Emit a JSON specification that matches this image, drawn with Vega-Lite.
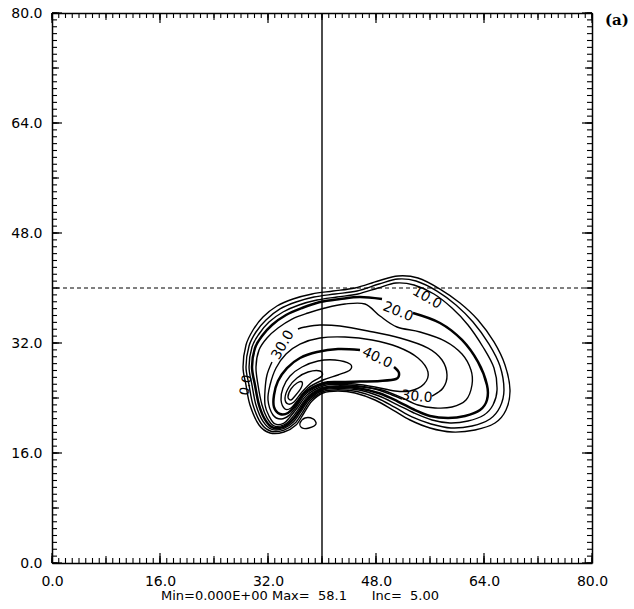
{
  "$schema": "https://vega.github.io/schema/vega-lite/v6.json",
  "width": 540,
  "height": 550,
  "autosize": "none",
  "padding": {"left": 52, "top": 13, "right": 42, "bottom": 46},
  "background": "white",
  "config": {
    "view": {"stroke": null},
    "axis": {"ticks": false, "tickSize": 0, "domainColor": "black", "domainWidth": 1.5, "labelFont": "DejaVu Sans", "labelFontSize": 14, "labelColor": "black", "grid": false, "labelOverlap": false, "labelFlush": false, "labelBound": false}
  },
  "title": {"text": "Min=0.000E+00 Max=\u00a0 58.1\u00a0\u00a0\u00a0\u00a0\u00a0 Inc=\u00a0 5.00", "orient": "bottom", "anchor": "middle", "font": "DejaVu Sans", "fontSize": 13, "fontWeight": "normal", "color": "black", "offset": 2, "dx": -22},
  "datasets": {
    "tv": [{"v":0},{"v":1},{"v":2},{"v":3},{"v":4},{"v":5},{"v":6},{"v":7},{"v":8},{"v":9},{"v":10},{"v":11},{"v":12},{"v":13},{"v":14},{"v":15},{"v":16},{"v":17},{"v":18},{"v":19},{"v":20},{"v":21},{"v":22},{"v":23},{"v":24},{"v":25},{"v":26},{"v":27},{"v":28},{"v":29},{"v":30},{"v":31},{"v":32},{"v":33},{"v":34},{"v":35},{"v":36},{"v":37},{"v":38},{"v":39},{"v":40},{"v":41},{"v":42},{"v":43},{"v":44},{"v":45},{"v":46},{"v":47},{"v":48},{"v":49},{"v":50},{"v":51},{"v":52},{"v":53},{"v":54},{"v":55},{"v":56},{"v":57},{"v":58},{"v":59},{"v":60},{"v":61},{"v":62},{"v":63},{"v":64},{"v":65},{"v":66},{"v":67},{"v":68},{"v":69},{"v":70},{"v":71},{"v":72},{"v":73},{"v":74},{"v":75},{"v":76},{"v":77},{"v":78},{"v":79},{"v":80}],
    "c": [
      {"s":"L5","i":1,"x":29.33,"y":22.98},{"s":"L5","i":2,"x":28.74,"y":25.89},{"s":"L5","i":3,"x":28.30,"y":28.51},{"s":"L5","i":4,"x":28.74,"y":31.71},{"s":"L5","i":5,"x":29.78,"y":33.89},{"s":"L5","i":6,"x":31.26,"y":35.78},{"s":"L5","i":7,"x":33.33,"y":37.38},{"s":"L5","i":8,"x":35.70,"y":38.40},{"s":"L5","i":9,"x":38.52,"y":39.13},{"s":"L5","i":10,"x":41.63,"y":39.56},{"s":"L5","i":11,"x":44.89,"y":40.00},{"s":"L5","i":12,"x":48.30,"y":41.02},{"s":"L5","i":13,"x":51.26,"y":41.75},{"s":"L5","i":14,"x":54.22,"y":41.45},{"s":"L5","i":15,"x":57.48,"y":39.85},{"s":"L5","i":16,"x":60.44,"y":37.82},{"s":"L5","i":17,"x":63.11,"y":35.35},{"s":"L5","i":18,"x":65.48,"y":32.15},{"s":"L5","i":19,"x":67.11,"y":28.80},{"s":"L5","i":20,"x":67.85,"y":25.16},{"s":"L5","i":21,"x":67.26,"y":22.25},{"s":"L5","i":22,"x":65.63,"y":20.36},{"s":"L5","i":23,"x":62.67,"y":19.35},{"s":"L5","i":24,"x":59.26,"y":19.05},{"s":"L5","i":25,"x":56.00,"y":19.64},{"s":"L5","i":26,"x":53.04,"y":20.80},{"s":"L5","i":27,"x":50.52,"y":22.25},{"s":"L5","i":28,"x":47.85,"y":23.71},{"s":"L5","i":29,"x":44.89,"y":24.73},{"s":"L5","i":30,"x":42.37,"y":25.02},{"s":"L5","i":31,"x":40.15,"y":24.73},{"s":"L5","i":32,"x":38.52,"y":23.56},{"s":"L5","i":33,"x":37.33,"y":21.82},{"s":"L5","i":34,"x":36.15,"y":20.07},{"s":"L5","i":35,"x":34.37,"y":19.05},{"s":"L5","i":36,"x":32.30,"y":18.91},{"s":"L5","i":37,"x":30.67,"y":20.07},

      {"s":"L10","i":1,"x":29.78,"y":22.98},{"s":"L10","i":2,"x":29.19,"y":25.89},{"s":"L10","i":3,"x":28.74,"y":28.51},{"s":"L10","i":4,"x":29.19,"y":31.56},{"s":"L10","i":5,"x":30.22,"y":33.60},{"s":"L10","i":6,"x":31.70,"y":35.35},{"s":"L10","i":7,"x":33.78,"y":36.95},{"s":"L10","i":8,"x":36.15,"y":37.96},{"s":"L10","i":9,"x":38.81,"y":38.69},{"s":"L10","i":10,"x":41.93,"y":39.13},{"s":"L10","i":11,"x":45.19,"y":39.56},{"s":"L10","i":12,"x":48.44,"y":40.58},{"s":"L10","i":13,"x":51.26,"y":41.31},{"s":"L10","i":14,"x":53.93,"y":41.02},{"s":"L10","i":15,"x":57.04,"y":39.56},{"s":"L10","i":16,"x":59.85,"y":37.53},{"s":"L10","i":17,"x":62.37,"y":35.05},{"s":"L10","i":18,"x":64.74,"y":31.85},{"s":"L10","i":19,"x":66.37,"y":28.65},{"s":"L10","i":20,"x":66.96,"y":25.16},{"s":"L10","i":21,"x":66.37,"y":22.69},{"s":"L10","i":22,"x":64.89,"y":20.95},{"s":"L10","i":23,"x":62.22,"y":19.93},{"s":"L10","i":24,"x":59.11,"y":19.64},{"s":"L10","i":25,"x":56.15,"y":20.22},{"s":"L10","i":26,"x":53.33,"y":21.24},{"s":"L10","i":27,"x":50.81,"y":22.62},{"s":"L10","i":28,"x":48.15,"y":24.00},{"s":"L10","i":29,"x":45.19,"y":24.95},{"s":"L10","i":30,"x":42.37,"y":25.21},{"s":"L10","i":31,"x":40.15,"y":24.93},{"s":"L10","i":32,"x":38.37,"y":23.74},{"s":"L10","i":33,"x":37.16,"y":21.99},{"s":"L10","i":34,"x":35.97,"y":20.31},{"s":"L10","i":35,"x":34.37,"y":19.32},{"s":"L10","i":36,"x":32.44,"y":19.17},{"s":"L10","i":37,"x":30.96,"y":20.33},

      {"s":"L15","i":1,"x":30.22,"y":22.98},{"s":"L15","i":2,"x":29.63,"y":25.89},{"s":"L15","i":3,"x":29.19,"y":28.51},{"s":"L15","i":4,"x":29.63,"y":31.42},{"s":"L15","i":5,"x":30.67,"y":33.31},{"s":"L15","i":6,"x":32.15,"y":35.05},{"s":"L15","i":7,"x":34.22,"y":36.51},{"s":"L15","i":8,"x":36.59,"y":37.53},{"s":"L15","i":9,"x":39.26,"y":38.25},{"s":"L15","i":10,"x":42.22,"y":38.69},{"s":"L15","i":11,"x":45.33,"y":39.13},{"s":"L15","i":12,"x":48.30,"y":40.00},{"s":"L15","i":13,"x":50.96,"y":40.73},{"s":"L15","i":14,"x":53.63,"y":40.44},{"s":"L15","i":15,"x":56.59,"y":39.13},{"s":"L15","i":16,"x":59.26,"y":37.09},{"s":"L15","i":17,"x":61.63,"y":34.62},{"s":"L15","i":18,"x":63.85,"y":31.42},{"s":"L15","i":19,"x":65.48,"y":28.36},{"s":"L15","i":20,"x":65.93,"y":25.16},{"s":"L15","i":21,"x":65.33,"y":22.98},{"s":"L15","i":22,"x":64.00,"y":21.53},{"s":"L15","i":23,"x":61.63,"y":20.65},{"s":"L15","i":24,"x":58.96,"y":20.36},{"s":"L15","i":25,"x":56.30,"y":20.80},{"s":"L15","i":26,"x":53.63,"y":21.82},{"s":"L15","i":27,"x":51.11,"y":23.05},{"s":"L15","i":28,"x":48.44,"y":24.29},{"s":"L15","i":29,"x":45.48,"y":25.16},{"s":"L15","i":30,"x":42.37,"y":25.40},{"s":"L15","i":31,"x":40.15,"y":25.13},{"s":"L15","i":32,"x":38.22,"y":23.91},{"s":"L15","i":33,"x":36.98,"y":22.17},{"s":"L15","i":34,"x":35.79,"y":20.54},{"s":"L15","i":35,"x":34.37,"y":19.58},{"s":"L15","i":36,"x":32.59,"y":19.43},{"s":"L15","i":37,"x":31.26,"y":20.60},

      {"s":"L20","i":1,"x":53.48,"y":36.36},{"s":"L20","i":2,"x":57.48,"y":34.91},{"s":"L20","i":3,"x":60.74,"y":32.44},{"s":"L20","i":4,"x":63.11,"y":29.24},{"s":"L20","i":5,"x":64.44,"y":25.89},{"s":"L20","i":6,"x":64.44,"y":23.71},{"s":"L20","i":7,"x":63.41,"y":22.25},{"s":"L20","i":8,"x":61.19,"y":21.38},{"s":"L20","i":9,"x":58.67,"y":21.09},{"s":"L20","i":10,"x":56.00,"y":21.38},{"s":"L20","i":11,"x":53.78,"y":22.25},{"s":"L20","i":12,"x":51.26,"y":23.49},{"s":"L20","i":13,"x":48.59,"y":24.65},{"s":"L20","i":14,"x":45.63,"y":25.38},{"s":"L20","i":15,"x":42.37,"y":25.59},{"s":"L20","i":16,"x":40.15,"y":25.34},{"s":"L20","i":17,"x":38.07,"y":24.09},{"s":"L20","i":18,"x":36.80,"y":22.34},{"s":"L20","i":19,"x":35.61,"y":20.77},{"s":"L20","i":20,"x":34.37,"y":19.84},{"s":"L20","i":21,"x":32.74,"y":19.69},{"s":"L20","i":22,"x":31.56,"y":20.86},{"s":"L20","i":23,"x":30.67,"y":22.98},{"s":"L20","i":24,"x":30.07,"y":25.89},{"s":"L20","i":25,"x":29.63,"y":28.51},{"s":"L20","i":26,"x":30.07,"y":31.27},{"s":"L20","i":27,"x":31.11,"y":33.02},{"s":"L20","i":28,"x":32.59,"y":34.62},{"s":"L20","i":29,"x":34.67,"y":36.07},{"s":"L20","i":30,"x":37.04,"y":37.09},{"s":"L20","i":31,"x":39.70,"y":37.96},{"s":"L20","i":32,"x":42.67,"y":38.40},{"s":"L20","i":33,"x":45.63,"y":38.69},{"s":"L20","i":34,"x":48.89,"y":38.40},

      {"s":"L25","i":1,"x":31.11,"y":22.98},{"s":"L25","i":2,"x":30.52,"y":25.89},{"s":"L25","i":3,"x":30.22,"y":28.51},{"s":"L25","i":4,"x":30.67,"y":30.98},{"s":"L25","i":5,"x":31.85,"y":32.73},{"s":"L25","i":6,"x":33.48,"y":34.18},{"s":"L25","i":7,"x":35.56,"y":35.49},{"s":"L25","i":8,"x":37.93,"y":36.36},{"s":"L25","i":9,"x":40.44,"y":37.09},{"s":"L25","i":10,"x":43.41,"y":37.67},{"s":"L25","i":11,"x":46.37,"y":37.67},{"s":"L25","i":12,"x":48.59,"y":35.93},{"s":"L25","i":13,"x":51.11,"y":34.33},{"s":"L25","i":14,"x":54.52,"y":33.60},{"s":"L25","i":15,"x":58.22,"y":32.29},{"s":"L25","i":16,"x":60.74,"y":30.40},{"s":"L25","i":17,"x":62.07,"y":28.07},{"s":"L25","i":18,"x":62.22,"y":25.89},{"s":"L25","i":19,"x":61.33,"y":23.71},{"s":"L25","i":20,"x":59.26,"y":22.69},{"s":"L25","i":21,"x":56.74,"y":22.55},{"s":"L25","i":22,"x":54.22,"y":22.98},{"s":"L25","i":23,"x":51.56,"y":24.15},{"s":"L25","i":24,"x":48.89,"y":25.16},{"s":"L25","i":25,"x":45.93,"y":25.60},{"s":"L25","i":26,"x":42.37,"y":25.77},{"s":"L25","i":27,"x":40.15,"y":25.54},{"s":"L25","i":28,"x":37.93,"y":24.26},{"s":"L25","i":29,"x":36.62,"y":22.52},{"s":"L25","i":30,"x":35.44,"y":21.00},{"s":"L25","i":31,"x":34.37,"y":20.10},{"s":"L25","i":32,"x":32.89,"y":19.96},{"s":"L25","i":33,"x":31.85,"y":21.12},

      {"s":"L30a","i":1,"x":56.30,"y":24.29},{"s":"L30a","i":2,"x":57.93,"y":25.45},{"s":"L30a","i":3,"x":58.52,"y":27.35},{"s":"L30a","i":4,"x":57.78,"y":29.53},{"s":"L30a","i":5,"x":55.70,"y":31.27},{"s":"L30a","i":6,"x":51.56,"y":32.73},{"s":"L30a","i":7,"x":46.81,"y":33.75},{"s":"L30a","i":8,"x":42.67,"y":34.47},{"s":"L30a","i":9,"x":39.70,"y":34.62},{"s":"L30a","i":10,"x":37.48,"y":34.33},{"s":"L30a","i":11,"x":36.44,"y":34.04},

      {"s":"L30b","i":1,"x":32.59,"y":29.24},{"s":"L30b","i":2,"x":31.85,"y":27.35},{"s":"L30b","i":3,"x":31.56,"y":25.16},{"s":"L30b","i":4,"x":31.56,"y":22.98},{"s":"L30b","i":5,"x":32.15,"y":21.38},{"s":"L30b","i":6,"x":33.04,"y":20.22},{"s":"L30b","i":7,"x":34.37,"y":20.36},{"s":"L30b","i":8,"x":35.26,"y":21.24},{"s":"L30b","i":9,"x":36.44,"y":22.69},{"s":"L30b","i":10,"x":37.78,"y":24.44},{"s":"L30b","i":11,"x":40.15,"y":25.75},{"s":"L30b","i":12,"x":42.37,"y":25.96},{"s":"L30b","i":13,"x":44.89,"y":25.82},{"s":"L30b","i":14,"x":47.85,"y":25.31},{"s":"L30b","i":15,"x":50.37,"y":24.44},{"s":"L30b","i":16,"x":51.85,"y":23.85},

      {"s":"L35","i":1,"x":32.00,"y":23.71},{"s":"L35","i":2,"x":32.30,"y":25.89},{"s":"L35","i":3,"x":33.19,"y":28.36},{"s":"L35","i":4,"x":34.67,"y":30.40},{"s":"L35","i":5,"x":36.74,"y":31.85},{"s":"L35","i":6,"x":39.70,"y":32.73},{"s":"L35","i":7,"x":43.41,"y":32.87},{"s":"L35","i":8,"x":47.41,"y":32.44},{"s":"L35","i":9,"x":51.26,"y":31.42},{"s":"L35","i":10,"x":54.22,"y":29.82},{"s":"L35","i":11,"x":55.70,"y":27.78},{"s":"L35","i":12,"x":55.11,"y":26.04},{"s":"L35","i":13,"x":53.04,"y":25.02},{"s":"L35","i":14,"x":50.81,"y":25.02},{"s":"L35","i":15,"x":47.85,"y":25.60},{"s":"L35","i":16,"x":44.89,"y":26.04},{"s":"L35","i":17,"x":42.37,"y":26.15},{"s":"L35","i":18,"x":40.15,"y":25.95},{"s":"L35","i":19,"x":37.63,"y":24.61},{"s":"L35","i":20,"x":36.30,"y":22.87},{"s":"L35","i":21,"x":35.11,"y":21.47},{"s":"L35","i":22,"x":33.93,"y":20.95},{"s":"L35","i":23,"x":32.74,"y":21.53},

      {"s":"L40","i":1,"x":50.67,"y":28.51},{"s":"L40","i":2,"x":51.41,"y":27.64},{"s":"L40","i":3,"x":50.96,"y":26.76},{"s":"L40","i":4,"x":48.59,"y":26.47},{"s":"L40","i":5,"x":45.63,"y":26.40},{"s":"L40","i":6,"x":42.67,"y":26.33},{"s":"L40","i":7,"x":40.15,"y":26.15},{"s":"L40","i":8,"x":37.48,"y":24.79},{"s":"L40","i":9,"x":36.15,"y":23.04},{"s":"L40","i":10,"x":34.96,"y":21.82},{"s":"L40","i":11,"x":33.78,"y":21.67},{"s":"L40","i":12,"x":32.89,"y":22.69},{"s":"L40","i":13,"x":32.89,"y":24.44},{"s":"L40","i":14,"x":33.48,"y":26.47},{"s":"L40","i":15,"x":34.81,"y":28.36},{"s":"L40","i":16,"x":36.74,"y":29.82},{"s":"L40","i":17,"x":39.26,"y":30.69},{"s":"L40","i":18,"x":42.37,"y":31.13},{"s":"L40","i":19,"x":45.63,"y":30.98},

      {"s":"L45","i":1,"x":33.93,"y":23.71},{"s":"L45","i":2,"x":34.22,"y":25.45},{"s":"L45","i":3,"x":35.26,"y":27.20},{"s":"L45","i":4,"x":37.04,"y":28.51},{"s":"L45","i":5,"x":39.41,"y":29.38},{"s":"L45","i":6,"x":41.93,"y":29.53},{"s":"L45","i":7,"x":44.15,"y":28.94},{"s":"L45","i":8,"x":44.15,"y":28.07},{"s":"L45","i":9,"x":42.37,"y":27.35},{"s":"L45","i":10,"x":40.15,"y":26.62},{"s":"L45","i":11,"x":37.93,"y":25.45},{"s":"L45","i":12,"x":36.44,"y":23.71},{"s":"L45","i":13,"x":35.41,"y":22.55},{"s":"L45","i":14,"x":34.52,"y":22.40},

      {"s":"L50","i":1,"x":34.52,"y":24.00},{"s":"L50","i":2,"x":35.11,"y":25.60},{"s":"L50","i":3,"x":36.30,"y":26.91},{"s":"L50","i":4,"x":37.93,"y":27.78},{"s":"L50","i":5,"x":39.70,"y":27.93},{"s":"L50","i":6,"x":40.00,"y":27.20},{"s":"L50","i":7,"x":38.52,"y":26.33},{"s":"L50","i":8,"x":37.04,"y":24.87},{"s":"L50","i":9,"x":35.85,"y":23.42},{"s":"L50","i":10,"x":34.96,"y":23.13},

      {"s":"L55","i":1,"x":34.96,"y":24.15},{"s":"L55","i":2,"x":35.41,"y":25.31},{"s":"L55","i":3,"x":36.30,"y":26.18},{"s":"L55","i":4,"x":37.04,"y":26.33},{"s":"L55","i":5,"x":36.89,"y":25.45},{"s":"L55","i":6,"x":36.00,"y":24.29},{"s":"L55","i":7,"x":35.41,"y":23.71},

      {"s":"B1","i":1,"x":36.74,"y":20.36},{"s":"B1","i":2,"x":37.48,"y":21.09},{"s":"B1","i":3,"x":38.67,"y":20.95},{"s":"B1","i":4,"x":39.11,"y":20.22},{"s":"B1","i":5,"x":38.07,"y":19.64},{"s":"B1","i":6,"x":37.04,"y":19.64}
    ],
    "lab": [
      {"id":"l10","t":"10.0","x":55.56,"y":38.55},
      {"id":"l20","t":"20.0","x":51.26,"y":36.51},
      {"id":"l30a","t":"30.0","x":34.22,"y":31.71},
      {"id":"l40","t":"40.0","x":48.15,"y":29.82},
      {"id":"l30b","t":"30.0","x":54.07,"y":24.15},
      {"id":"l0","t":"0.0","x":28.74,"y":25.89},
      {"id":"pa","t":"(a)","x":83.7,"y":78.98}
    ],
    "ln": [{"v": 40}]
  },
  "layer": [
    {
      "data": {"name": "c"},
      "transform": [{"filter": {"field": "s", "oneOf": ["L5","L10","L15","L25","L35","L45","L50","L55","B1"]}}],
      "mark": {"type": "line", "interpolate": "cardinal-closed", "color": "black", "strokeWidth": 1.4},
      "encoding": {
        "x": {"field": "x", "type": "quantitative", "scale": {"domain": [0, 80], "nice": false, "zero": false},
          "axis": {"orient": "bottom", "title": null, "values": [0, 16, 32, 48, 64, 80], "format": ".1f", "labelPadding": 11}},
        "y": {"field": "y", "type": "quantitative", "scale": {"domain": [0, 80], "nice": false, "zero": false},
          "axis": {"orient": "left", "title": null, "values": [0, 16, 32, 48, 64, 80], "format": ".1f", "labelPadding": 10}},
        "detail": {"field": "s"},
        "order": {"field": "i", "type": "quantitative"}
      }
    },
    {
      "data": {"name": "c"},
      "transform": [{"filter": {"field": "s", "oneOf": ["L30a","L30b"]}}],
      "mark": {"type": "line", "interpolate": "cardinal", "color": "black", "strokeWidth": 1.4},
      "encoding": {
        "x": {"field": "x", "type": "quantitative", "scale": {"domain": [0, 80]}, "axis": null},
        "y": {"field": "y", "type": "quantitative", "scale": {"domain": [0, 80]}, "axis": null},
        "detail": {"field": "s"},
        "order": {"field": "i", "type": "quantitative"}
      }
    },
    {
      "data": {"name": "c"},
      "transform": [{"filter": {"field": "s", "oneOf": ["L20","L40"]}}],
      "mark": {"type": "line", "interpolate": "cardinal", "color": "black", "strokeWidth": 2.5},
      "encoding": {
        "x": {"field": "x", "type": "quantitative", "scale": {"domain": [0, 80]}, "axis": null},
        "y": {"field": "y", "type": "quantitative", "scale": {"domain": [0, 80]}, "axis": null},
        "detail": {"field": "s"},
        "order": {"field": "i", "type": "quantitative"}
      }
    },
    {
      "data": {"name": "ln"},
      "mark": {"type": "rule", "color": "black", "strokeWidth": 1.4},
      "encoding": {"x": {"field": "v", "type": "quantitative", "scale": {"domain": [0, 80]}, "axis": null}}
    },
    {
      "data": {"name": "ln"},
      "mark": {"type": "rule", "color": "black", "strokeWidth": 1, "strokeDash": [4, 3]},
      "encoding": {"y": {"field": "v", "type": "quantitative", "scale": {"domain": [0, 80]}, "axis": null}}
    },

    {"data": {"name": "tv"}, "mark": {"type": "tick", "orient": "vertical", "size": 5, "thickness": 1.1, "color": "black", "opacity": 1, "yOffset": -2.5},
      "encoding": {"x": {"field": "v", "type": "quantitative", "scale": {"domain": [0, 80]}, "axis": null}, "y": {"datum": 0, "type": "quantitative", "scale": {"domain": [0, 80]}, "axis": null}}},
    {"data": {"name": "tv"}, "transform": [{"filter": "datum.v % 8 === 0"}], "mark": {"type": "tick", "orient": "vertical", "size": 7, "thickness": 1.1, "color": "black", "opacity": 1, "yOffset": -3.5},
      "encoding": {"x": {"field": "v", "type": "quantitative", "scale": {"domain": [0, 80]}, "axis": null}, "y": {"datum": 0, "type": "quantitative", "scale": {"domain": [0, 80]}, "axis": null}}},
    {"data": {"name": "tv"}, "transform": [{"filter": "datum.v % 16 === 0"}], "mark": {"type": "tick", "orient": "vertical", "size": 10, "thickness": 1.2, "color": "black", "opacity": 1, "yOffset": -5},
      "encoding": {"x": {"field": "v", "type": "quantitative", "scale": {"domain": [0, 80]}, "axis": null}, "y": {"datum": 0, "type": "quantitative", "scale": {"domain": [0, 80]}, "axis": null}}},

    {"data": {"name": "tv"}, "mark": {"type": "tick", "orient": "vertical", "size": 5, "thickness": 1.1, "color": "black", "opacity": 1, "yOffset": 2.5},
      "encoding": {"x": {"field": "v", "type": "quantitative", "scale": {"domain": [0, 80]}, "axis": null}, "y": {"datum": 80, "type": "quantitative", "scale": {"domain": [0, 80]}, "axis": null}}},
    {"data": {"name": "tv"}, "transform": [{"filter": "datum.v % 8 === 0"}], "mark": {"type": "tick", "orient": "vertical", "size": 7, "thickness": 1.1, "color": "black", "opacity": 1, "yOffset": 3.5},
      "encoding": {"x": {"field": "v", "type": "quantitative", "scale": {"domain": [0, 80]}, "axis": null}, "y": {"datum": 80, "type": "quantitative", "scale": {"domain": [0, 80]}, "axis": null}}},
    {"data": {"name": "tv"}, "transform": [{"filter": "datum.v % 16 === 0"}], "mark": {"type": "tick", "orient": "vertical", "size": 10, "thickness": 1.2, "color": "black", "opacity": 1, "yOffset": 5},
      "encoding": {"x": {"field": "v", "type": "quantitative", "scale": {"domain": [0, 80]}, "axis": null}, "y": {"datum": 80, "type": "quantitative", "scale": {"domain": [0, 80]}, "axis": null}}},

    {"data": {"name": "tv"}, "mark": {"type": "tick", "orient": "horizontal", "size": 5, "thickness": 1.1, "color": "black", "opacity": 1, "xOffset": 2.5},
      "encoding": {"y": {"field": "v", "type": "quantitative", "scale": {"domain": [0, 80]}, "axis": null}, "x": {"datum": 0, "type": "quantitative", "scale": {"domain": [0, 80]}, "axis": null}}},
    {"data": {"name": "tv"}, "transform": [{"filter": "datum.v % 8 === 0"}], "mark": {"type": "tick", "orient": "horizontal", "size": 7, "thickness": 1.1, "color": "black", "opacity": 1, "xOffset": 3.5},
      "encoding": {"y": {"field": "v", "type": "quantitative", "scale": {"domain": [0, 80]}, "axis": null}, "x": {"datum": 0, "type": "quantitative", "scale": {"domain": [0, 80]}, "axis": null}}},
    {"data": {"name": "tv"}, "transform": [{"filter": "datum.v % 16 === 0"}], "mark": {"type": "tick", "orient": "horizontal", "size": 10, "thickness": 1.2, "color": "black", "opacity": 1, "xOffset": 5},
      "encoding": {"y": {"field": "v", "type": "quantitative", "scale": {"domain": [0, 80]}, "axis": null}, "x": {"datum": 0, "type": "quantitative", "scale": {"domain": [0, 80]}, "axis": null}}},

    {"data": {"name": "tv"}, "mark": {"type": "tick", "orient": "horizontal", "size": 5, "thickness": 1.1, "color": "black", "opacity": 1, "xOffset": -2.5},
      "encoding": {"y": {"field": "v", "type": "quantitative", "scale": {"domain": [0, 80]}, "axis": null}, "x": {"datum": 80, "type": "quantitative", "scale": {"domain": [0, 80]}, "axis": null}}},
    {"data": {"name": "tv"}, "transform": [{"filter": "datum.v % 8 === 0"}], "mark": {"type": "tick", "orient": "horizontal", "size": 7, "thickness": 1.1, "color": "black", "opacity": 1, "xOffset": -3.5},
      "encoding": {"y": {"field": "v", "type": "quantitative", "scale": {"domain": [0, 80]}, "axis": null}, "x": {"datum": 80, "type": "quantitative", "scale": {"domain": [0, 80]}, "axis": null}}},
    {"data": {"name": "tv"}, "transform": [{"filter": "datum.v % 16 === 0"}], "mark": {"type": "tick", "orient": "horizontal", "size": 10, "thickness": 1.2, "color": "black", "opacity": 1, "xOffset": -5},
      "encoding": {"y": {"field": "v", "type": "quantitative", "scale": {"domain": [0, 80]}, "axis": null}, "x": {"datum": 80, "type": "quantitative", "scale": {"domain": [0, 80]}, "axis": null}}},

    {
      "data": {"name": "lab"},
      "transform": [{"filter": {"field": "id", "equal": "l10"}}],
      "mark": {"type": "text", "font": "DejaVu Sans", "fontSize": 14, "color": "black", "angle": 30, "align": "center", "baseline": "middle"},
      "encoding": {"x": {"field": "x", "type": "quantitative", "scale": {"domain": [0, 80]}, "axis": null}, "y": {"field": "y", "type": "quantitative", "scale": {"domain": [0, 80]}, "axis": null}, "text": {"field": "t"}}
    },
    {
      "data": {"name": "lab"},
      "transform": [{"filter": {"field": "id", "equal": "l20"}}],
      "mark": {"type": "text", "font": "DejaVu Sans", "fontSize": 14, "color": "black", "angle": 22, "align": "center", "baseline": "middle"},
      "encoding": {"x": {"field": "x", "type": "quantitative", "scale": {"domain": [0, 80]}, "axis": null}, "y": {"field": "y", "type": "quantitative", "scale": {"domain": [0, 80]}, "axis": null}, "text": {"field": "t"}}
    },
    {
      "data": {"name": "lab"},
      "transform": [{"filter": {"field": "id", "equal": "l30a"}}],
      "mark": {"type": "text", "font": "DejaVu Sans", "fontSize": 14, "color": "black", "angle": -60, "align": "center", "baseline": "middle"},
      "encoding": {"x": {"field": "x", "type": "quantitative", "scale": {"domain": [0, 80]}, "axis": null}, "y": {"field": "y", "type": "quantitative", "scale": {"domain": [0, 80]}, "axis": null}, "text": {"field": "t"}}
    },
    {
      "data": {"name": "lab"},
      "transform": [{"filter": {"field": "id", "equal": "l40"}}],
      "mark": {"type": "text", "font": "DejaVu Sans", "fontSize": 14, "color": "black", "angle": 25, "align": "center", "baseline": "middle"},
      "encoding": {"x": {"field": "x", "type": "quantitative", "scale": {"domain": [0, 80]}, "axis": null}, "y": {"field": "y", "type": "quantitative", "scale": {"domain": [0, 80]}, "axis": null}, "text": {"field": "t"}}
    },
    {
      "data": {"name": "lab"},
      "transform": [{"filter": {"field": "id", "equal": "l30b"}}],
      "mark": {"type": "text", "font": "DejaVu Sans", "fontSize": 14, "color": "black", "angle": 5, "align": "center", "baseline": "middle"},
      "encoding": {"x": {"field": "x", "type": "quantitative", "scale": {"domain": [0, 80]}, "axis": null}, "y": {"field": "y", "type": "quantitative", "scale": {"domain": [0, 80]}, "axis": null}, "text": {"field": "t"}}
    },
    {
      "data": {"name": "lab"},
      "transform": [{"filter": {"field": "id", "equal": "l0"}}],
      "mark": {"type": "text", "font": "DejaVu Sans", "fontSize": 13, "color": "black", "angle": -80, "align": "center", "baseline": "middle"},
      "encoding": {"x": {"field": "x", "type": "quantitative", "scale": {"domain": [0, 80]}, "axis": null}, "y": {"field": "y", "type": "quantitative", "scale": {"domain": [0, 80]}, "axis": null}, "text": {"field": "t"}}
    },
    {
      "data": {"name": "lab"},
      "transform": [{"filter": {"field": "id", "equal": "pa"}}],
      "mark": {"type": "text", "font": "DejaVu Serif", "fontSize": 15, "fontWeight": "bold", "color": "black", "align": "center", "baseline": "middle"},
      "encoding": {
        "x": {"field": "x", "type": "quantitative", "scale": {"domain": [0, 80]}, "axis": {"orient": "top", "title": null, "labels": false, "values": [0, 80]}},
        "y": {"field": "y", "type": "quantitative", "scale": {"domain": [0, 80]}, "axis": {"orient": "right", "title": null, "labels": false, "values": [0, 80]}},
        "text": {"field": "t"}
      }
    }
  ],
  "resolve": {"axis": {"x": "independent", "y": "independent"}}
}
